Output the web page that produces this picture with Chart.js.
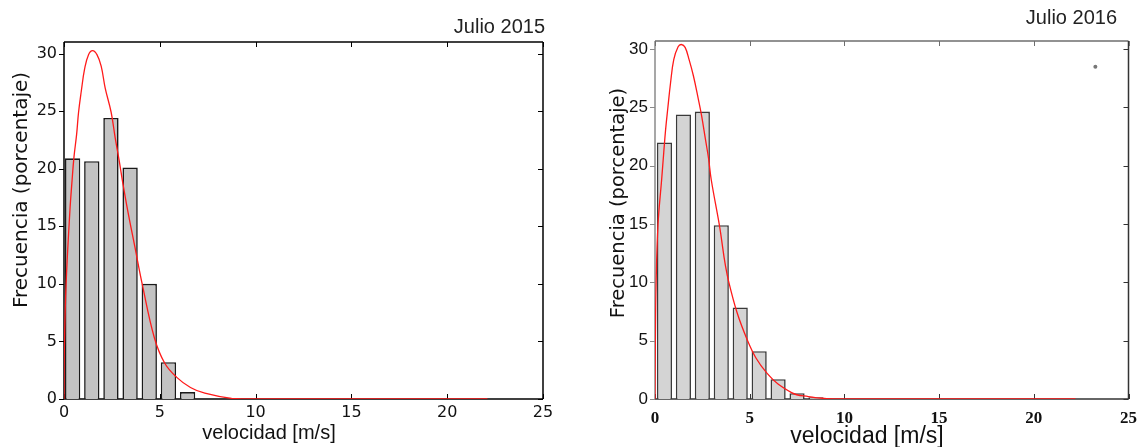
<!DOCTYPE html>
<html lang="es">
<head>
<meta charset="UTF-8">
<title>Frecuencia de velocidad - Julio 2015 / Julio 2016</title>
<script src="https://cdn.jsdelivr.net/npm/chart.js"></script>
<style>
  body { margin: 0; background: #fff; }
  #wrap { position: relative; width: 1146px; height: 447px; }
  .box { position: absolute; top: 0; height: 447px; }
  #box2015 { left: 0; width: 575px; }
  #box2016 { left: 575px; width: 571px; }
</style>
</head>
<body>
<div id="wrap">
  <div class="box" id="box2015"><canvas id="c2015"></canvas></div>
  <div class="box" id="box2016"><canvas id="c2016"></canvas></div>
</div>
<script>
// ejes
const xTickValues = [0, 5, 10, 15, 20, 25];
const yTickValues = [0, 5, 10, 15, 20, 25, 30];

// Julio 2015: histograma + curva ajustada
const binCenters2015 = [0.45, 1.45, 2.45, 3.45, 4.45, 5.45, 6.45];
const freq2015 = [20.9, 20.65, 24.4, 20.1, 10.0, 3.2, 0.6];
const fitX2015 = [0, 0.02, 0.11, 0.31, 0.42, 0.52, 0.66, 0.76, 0.9, 1.08, 1.28, 1.49, 1.72, 1.94, 2.15, 2.46, 2.67, 2.88, 3.05, 3.32, 3.7, 4.08, 4.72, 5.26, 5.87, 6.6, 7.35, 8.75, 10, 22.1];
const fitY2015 = [0, 4.5, 10, 16.4, 18.95, 21, 23, 24.9, 26.7, 28.7, 29.9, 30.25, 29.9, 28.9, 27, 24.9, 22.7, 20.7, 18.95, 16.4, 13.2, 10, 5.3, 3.1, 1.9, 1.0, 0.5, 0.05, 0, 0];

// Julio 2016
const binCenters2016 = [0.5, 1.5, 2.5, 3.5, 4.5, 5.5, 6.5, 7.5, 8.5];
const freq2016 = [22.0, 24.4, 24.65, 14.9, 7.85, 4.1, 1.7, 0.5, 0.15];
const fitX2016 = [0, 0.02, 0.06, 0.16, 0.35, 0.46, 0.56, 0.68, 0.82, 0.99, 1.22, 1.39, 1.59, 1.8, 2.03, 2.29, 2.46, 2.66, 2.83, 2.97, 3.39, 3.9, 4.89, 5.92, 7.21, 8.1, 9.07, 10, 22.2];
const fitY2016 = [0, 5, 10, 15, 18.8, 21.1, 23.1, 25, 27.1, 29.1, 30.2, 30.4, 30.15, 29.1, 27.7, 25.7, 24.3, 22.3, 20.6, 18.8, 15, 10, 5, 2.2, 0.55, 0.2, 0.03, 0, 0];
const strayX2016 = [23.25];
const strayY2016 = [28.5];

// marco + ticks hacia dentro (estilo matlab)
const framePlugin = {
  id: 'frame',
  beforeDatasetsDraw(chart, args, o) {
    const { ctx, chartArea: a, scales: { x, y } } = chart;
    const line = (c, x1, y1, x2, y2) => {
      ctx.strokeStyle = c;
      ctx.beginPath(); ctx.moveTo(x1, y1); ctx.lineTo(x2, y2); ctx.stroke();
    };
    ctx.save();
    ctx.lineWidth = o.width;
    line(o.top, a.left, a.top, a.right, a.top);
    line(o.right, a.right, a.top, a.right, a.bottom);
    line(o.bottom, a.left, a.bottom, a.right, a.bottom);
    line(o.left, a.left, a.top, a.left, a.bottom);
    ctx.lineWidth = 1;
    x.ticks.forEach(t => {
      const px = Math.round(x.getPixelForValue(t.value)) + 0.5;
      line(o.top, px, a.top, px, a.top + o.tick);
      line(o.bottom, px, a.bottom, px, a.bottom - o.tick);
    });
    y.ticks.forEach(t => {
      const py = Math.round(y.getPixelForValue(t.value)) + 0.5;
      line(o.left, a.left - o.tick, py, a.left, py);
      line(o.right, a.right, py, a.right - o.tick, py);
    });
    ctx.restore();
  }
};

// textos (titulo y nombres de ejes)
const labelsPlugin = {
  id: 'labels',
  afterDraw(chart, args, o) {
    const ctx = chart.ctx;
    o.items.forEach(it => {
      ctx.save();
      ctx.font = it.font;
      ctx.fillStyle = it.color || '#111';
      ctx.textAlign = it.align || 'center';
      ctx.textBaseline = 'alphabetic';
      ctx.translate(it.x, it.y);
      if (it.rotate) ctx.rotate(it.rotate);
      ctx.fillText(it.text, 0, 0);
      ctx.restore();
    });
  }
};

function histChart(id, s) {
  const bars = s.centers.map((c, i) => ({ x: c, y: s.freq[i] }));
  const fit = s.fitX.map((v, i) => ({ x: v, y: s.fitY[i] }));
  const datasets = [
    { type: 'bar', data: bars, backgroundColor: s.barFill, borderColor: s.barLine, borderWidth: 1.6,
      barPercentage: 0.8, categoryPercentage: 1, order: 2 },
    { type: 'line', data: fit, borderColor: '#ff1a1a', borderWidth: 1.3, pointRadius: 0,
      tension: 0.4, fill: false, order: 1 }
  ];
  if (s.strayX) {
    datasets.push({ type: 'scatter', data: s.strayX.map((v, i) => ({ x: v, y: s.strayY[i] })),
      pointRadius: 2, backgroundColor: '#777', borderWidth: 0, order: 0 });
  }
  return new Chart(document.getElementById(id), {
    type: 'bar',
    data: { datasets },
    options: {
      responsive: true,
      maintainAspectRatio: false,
      animation: false,
      layout: { padding: { top: s.top, right: s.right, bottom: 0, left: 0 } },
      plugins: {
        legend: { display: false },
        tooltip: { enabled: false },
        frame: s.frame,
        labels: { items: s.texts }
      },
      scales: {
        x: {
          type: 'linear', min: 0, max: 25, offset: false,
          grid: { display: false, drawTicks: false, offset: false },
          border: { display: false },
          afterBuildTicks: sc => { sc.ticks = xTickValues.map(v => ({ value: v })); },
          afterFit: sc => { sc.height = 447 - 399; },
          ticks: { padding: s.xPad, color: '#111', font: s.xFont, maxRotation: 0, autoSkip: false }
        },
        y: {
          type: 'linear', min: 0, max: s.yMax,
          grid: { display: false, drawTicks: false },
          border: { display: false },
          afterBuildTicks: sc => { sc.ticks = yTickValues.map(v => ({ value: v })); },
          afterFit: sc => { sc.width = s.yWidth; },
          ticks: { padding: s.yPad, color: '#111', font: s.yFont }
        }
      }
    },
    plugins: [framePlugin, labelsPlugin]
  });
}

histChart('c2015', {
  centers: binCenters2015, freq: freq2015, fitX: fitX2015, fitY: fitY2015,
  barFill: '#c3c3c3', barLine: '#1a1a1a',
  top: 42, right: 32, yWidth: 64, yMax: 31,
  xPad: 4, yPad: 7,
  xFont: { family: 'DejaVu Sans', size: 16 },
  yFont: { family: 'DejaVu Sans', size: 16 },
  frame: { top: '#000', right: '#000', bottom: '#000', left: '#000', width: 1.5, tick: 5 },
  texts: [
    { text: 'Julio 2015', x: 545, y: 33, font: '20px "Liberation Sans"', align: 'right', color: '#222' },
    { text: 'Frecuencia (porcentaje)', x: 27, y: 190, font: '20px "DejaVu Sans"', rotate: -Math.PI / 2 },
    { text: 'velocidad [m/s]', x: 269, y: 439, font: '20px "Liberation Sans"' }
  ]
});

histChart('c2016', {
  centers: binCenters2016, freq: freq2016, fitX: fitX2016, fitY: fitY2016,
  strayX: strayX2016, strayY: strayY2016,
  barFill: '#d4d4d4', barLine: '#3a3a3a',
  top: 41, right: 7, yWidth: 80, yMax: 30.7,
  xPad: 9, yPad: 7,
  xFont: { family: 'Liberation Serif', size: 17, weight: 'bold' },
  yFont: { family: 'Liberation Sans', size: 17 },
  frame: { top: '#6e6e6e', right: '#333', bottom: '#333', left: '#8a8a8a', width: 1.5, tick: 5 },
  texts: [
    { text: 'Julio 2016', x: 542, y: 24, font: '20px "Liberation Sans"', align: 'right', color: '#222' },
    { text: 'Frecuencia (porcentaje)', x: 49, y: 203, font: '19.5px "DejaVu Sans"', rotate: -Math.PI / 2 },
    { text: 'velocidad [m/s]', x: 292, y: 443, font: '23px "Liberation Sans"' }
  ]
});
</script>
</body>
</html>
